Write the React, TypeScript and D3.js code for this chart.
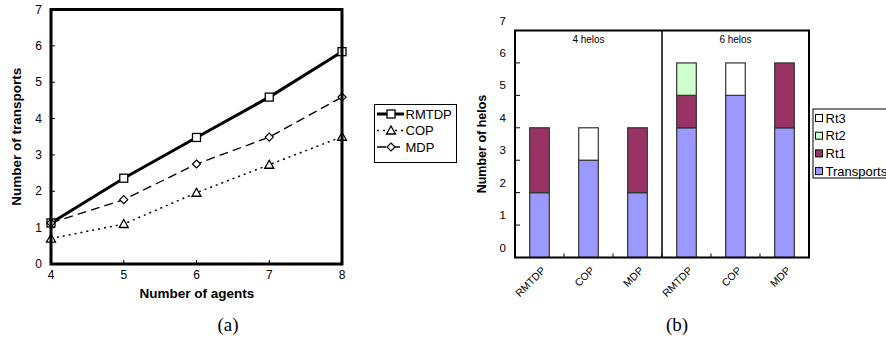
import React from "react";
import * as d3 from "d3";

const agents = [4, 5, 6, 7, 8];
const rmtdp = [1.13, 2.36, 3.48, 4.59, 5.84];
const cop = [0.7, 1.1, 1.96, 2.73, 3.5];
const mdp = [1.13, 1.77, 2.75, 3.49, 4.59];
const leftYTicks = [0, 1, 2, 3, 4, 5, 6, 7];

const barCats = ["RMTDP", "COP", "MDP", "RMTDP", "COP", "MDP"];
const transports = [2, 3, 2, 4, 5, 4];
const rt1 = [2, 0, 2, 1, 0, 2];
const rt2 = [0, 0, 0, 1, 0, 0];
const rt3 = [0, 1, 0, 0, 1, 0];
const groupLabels = ["4 helos", "6 helos"];
const rightYTicks = [0, 1, 2, 3, 4, 5, 6, 7];
const seriesNames = ["Transports", "Rt1", "Rt2", "Rt3"];
const seriesColors = ["#9999ff", "#993366", "#ccffcc", "#ffffff"];

const FONT = "Liberation Sans, Arial, sans-serif";

function Marker({ kind, x, y }: { kind: string; x: number; y: number }) {
  if (kind === "square")
    return <rect x={x - 4} y={y - 4} width={8} height={8} fill="white" stroke="black" strokeWidth={1.3} />;
  if (kind === "triangle")
    return <path d={`M${x},${y - 4.5}L${x + 4.5},${y + 3.5}L${x - 4.5},${y + 3.5}Z`} fill="white" stroke="black" strokeWidth={1.3} />;
  return <path d={`M${x},${y - 4}L${x + 4},${y}L${x},${y + 4}L${x - 4},${y}Z`} fill="white" stroke="black" strokeWidth={1.2} />;
}

export default function App() {
  // Left chart
  const lx = d3.scaleLinear().domain([4, 8]).range([51, 342]);
  const ly = d3.scaleLinear().domain([0, 7]).range([264, 9.5]);
  const line = d3.line<number>().x((_, i) => lx(agents[i])).y((d) => ly(d));
  const lineSeries = [
    { name: "RMTDP", data: rmtdp, width: 3, dash: "", marker: "square" },
    { name: "COP", data: cop, width: 1.5, dash: "2,4", marker: "triangle" },
    { name: "MDP", data: mdp, width: 1.3, dash: "9,5", marker: "diamond" },
  ];

  // Right chart
  const bx = d3.scaleBand<number>().domain(d3.range(barCats.length)).range([515, 809]);
  const by = d3.scaleLinear().domain([0, 7]).range([257.5, 30.5]);
  const barW = bx.bandwidth() * 0.4;
  const stackData = barCats.map((_, i) => ({ Transports: transports[i], Rt1: rt1[i], Rt2: rt2[i], Rt3: rt3[i] }));
  const stacks = d3.stack<any>().keys(seriesNames)(stackData);

  return (
    <svg width={886} height={341} style={{ position: "absolute", left: 0, top: 0, background: "white" }} fontFamily={FONT}>
      <rect width={886} height={341} fill="white" />
      {/* LEFT CHART */}
      <g>
        {leftYTicks.map((t) => (
          <g key={t}>
            <line x1={lx(4)} x2={lx(4) + 4} y1={ly(t)} y2={ly(t)} stroke="black" strokeWidth={1} />
            <text x={42} y={ly(t)} dy="0.35em" textAnchor="end" fontSize={12}>{t}</text>
          </g>
        ))}
        {agents.map((a) => (
          <g key={a}>
            <line x1={lx(a)} x2={lx(a)} y1={ly(0)} y2={ly(0) - 4} stroke="black" strokeWidth={1} />
            <text x={lx(a)} y={ly(0) + 15} textAnchor="middle" fontSize={12}>{a}</text>
          </g>
        ))}
        {lineSeries.map((s) => (
          <g key={s.name}>
            <path d={line(s.data) || ""} fill="none" stroke="black" strokeWidth={s.width} strokeDasharray={s.dash} />
            {s.data.map((v, i) => (
              <Marker key={i} kind={s.marker} x={lx(agents[i])} y={ly(v)} />
            ))}
          </g>
        ))}
        <rect x={lx(4)} y={ly(7)} width={lx(8) - lx(4)} height={ly(0) - ly(7)} fill="none" stroke="black" strokeWidth={3} />
        <text x={197} y={298} textAnchor="middle" fontSize={13.5} fontWeight="bold">Number of agents</text>
        <text transform={`translate(21,${(ly(0) + ly(7)) / 2}) rotate(-90)`} textAnchor="middle" fontSize={13.5} fontWeight="bold">Number of transports</text>
        {/* legend */}
        <rect x={374.5} y={104.5} width={82} height={58} fill="white" stroke="black" strokeWidth={1} />
        {lineSeries.map((s, i) => {
          const yy = 114 + i * 16.5;
          return (
            <g key={s.name}>
              <line x1={377} x2={404} y1={yy} y2={yy} stroke="black" strokeWidth={s.width} strokeDasharray={s.dash} />
              <Marker kind={s.marker} x={391} y={yy} />
              <text x={405.5} y={yy} dy="0.36em" fontSize={13}>{s.name}</text>
            </g>
          );
        })}
        <text x={228} y={331} textAnchor="middle" fontSize={19} fontFamily="Liberation Serif, Times New Roman, serif">(a)</text>
      </g>

      {/* RIGHT CHART */}
      <g>
        {rightYTicks.map((t) => (
          <g key={t}>
            <line x1={515} x2={520} y1={by(t)} y2={by(t)} stroke="black" strokeWidth={1} />
            <text x={506} y={by(t) - 10} dy="0.35em" textAnchor="end" fontSize={11.5}>{t}</text>
          </g>
        ))}
        {d3.range(1, barCats.length).map((i) => (
          <line key={i} x1={bx(i)!} x2={bx(i)!} y1={by(0)} y2={by(0) - 4} stroke="black" strokeWidth={1} />
        ))}
        {stacks.map((layer, si) => (
          <g key={layer.key}>
            {layer.map((d, i) =>
              d[1] - d[0] > 0 ? (
                <rect
                  key={i}
                  x={bx(i)! + (bx.bandwidth() - barW) / 2}
                  y={by(d[1])}
                  width={barW}
                  height={by(d[0]) - by(d[1])}
                  fill={seriesColors[si]}
                  stroke="#333"
                  strokeWidth={1.2}
                />
              ) : null
            )}
          </g>
        ))}
        <line x1={bx(3)!} x2={bx(3)!} y1={by(7)} y2={by(0)} stroke="black" strokeWidth={1.5} />
        <rect x={515} y={by(7)} width={294} height={by(0) - by(7)} fill="none" stroke="black" strokeWidth={2} />
        {groupLabels.map((g, gi) => (
          <text key={g} x={(bx(gi * 3)! + bx(gi * 3 + 2)! + bx.bandwidth()) / 2} y={43} textAnchor="middle" fontSize={10}>{g}</text>
        ))}
        {barCats.map((c, i) => {
          const cx = bx(i)! + bx.bandwidth() / 2 + 4;
          return (
            <text key={i} transform={`translate(${cx},${by(0) + 11}) rotate(-45)`} textAnchor="end" dy="0.35em" fontSize={10.5}>{c}</text>
          );
        })}
        <text transform={`translate(486,${(by(0) + by(7)) / 2}) rotate(-90)`} textAnchor="middle" fontSize={12.5} fontWeight="bold">Number of helos</text>
        {/* legend */}
        <rect x={813} y={109} width={80} height={69} fill="white" stroke="black" strokeWidth={1} />
        {[3, 2, 1, 0].map((si, k) => {
          const yy = 118 + k * 17.7;
          return (
            <g key={si}>
              <rect x={815.5} y={yy - 3.5} width={7} height={7} fill={seriesColors[si]} stroke="black" strokeWidth={1} />
              <text x={825.5} y={yy} dy="0.36em" fontSize={13}>{seriesNames[si]}</text>
            </g>
          );
        })}
        <text x={677} y={331} textAnchor="middle" fontSize={19} fontFamily="Liberation Serif, Times New Roman, serif">(b)</text>
      </g>
    </svg>
  );
}
